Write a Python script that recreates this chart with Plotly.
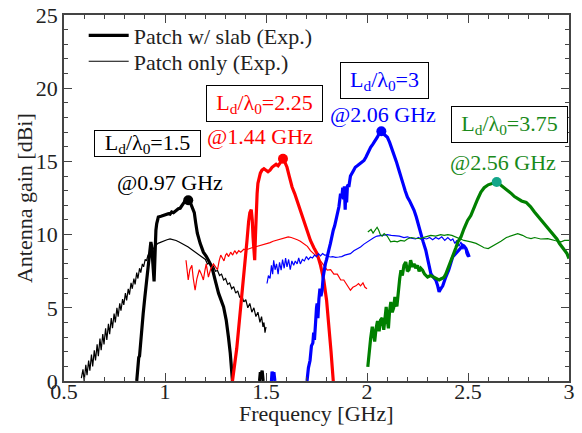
import plotly.graph_objects as go

# ---------------- data ----------------
# Patch w/ slab (Exp.), L_d/lambda_0 = 1.5 (black, thick)
blk_slab_f = [0.860, 0.866, 0.870, 0.874, 0.880, 0.886, 0.892, 0.900, 0.909, 0.917, 0.922, 0.926, 0.930,
              0.934, 0.938, 0.942, 0.946, 0.950, 0.955, 0.959, 0.967, 0.980, 0.992, 1.005, 1.017, 1.025,
              1.033, 1.042, 1.050, 1.058, 1.066, 1.075, 1.083, 1.092, 1.100, 1.108, 1.115, 1.125, 1.135,
              1.145, 1.152, 1.160, 1.174, 1.190, 1.205, 1.215, 1.232, 1.248, 1.265, 1.290, 1.303, 1.314,
              1.323, 1.334]
blk_slab_g = [0.0, 1.4, 1.6, 1.7, 2.8, 3.8, 4.6, 5.7, 6.9, 7.8, 8.6, 9.4, 9.5,
              9.2, 8.6, 7.6, 6.8, 8.9, 10.3, 10.75, 11.2, 11.25, 11.3, 11.35, 11.43, 11.4,
              11.55, 11.5, 11.6, 11.65, 11.77, 11.8, 12.0, 12.15, 12.3, 12.3, 12.35, 12.2, 11.9,
              11.5, 10.8, 10.1, 9.4, 8.8, 8.5, 8.25, 7.8, 6.9, 6.0, 5.06, 4.16, 3.0,
              1.9, 0.0]
blk_slab_tail_f = [1.468, 1.472, 1.476, 1.481, 1.486]
blk_slab_tail_g = [0.0, 0.6, 0.45, 0.7, 0.0]

# Patch only (Exp.) near 1 GHz (black, thin)
blk_only_f = [0.586, 0.594, 0.600, 0.608, 0.614, 0.622, 0.628, 0.636, 0.642, 0.650, 0.656, 0.664, 0.670,
              0.678, 0.684, 0.692, 0.698, 0.706, 0.712, 0.720, 0.726, 0.734, 0.740, 0.748, 0.754, 0.762,
              0.768, 0.776, 0.782, 0.790, 0.796, 0.804, 0.810, 0.818, 0.824, 0.832, 0.838, 0.846, 0.852,
              0.860, 0.866, 0.874, 0.880, 0.888, 0.894, 0.902, 0.908, 0.916, 0.922, 0.935, 0.950, 0.965,
              0.980, 0.995, 1.010, 1.025, 1.040, 1.055, 1.070, 1.085, 1.100, 1.115, 1.130, 1.145, 1.160,
              1.175, 1.190, 1.200, 1.210, 1.220, 1.230, 1.240, 1.250, 1.260, 1.270, 1.280, 1.290, 1.300,
              1.310, 1.320, 1.330, 1.340, 1.350, 1.360, 1.370, 1.380, 1.390, 1.400, 1.410, 1.420, 1.430,
              1.440, 1.450, 1.460, 1.470, 1.478, 1.485, 1.490, 1.495, 1.500]
blk_only_g = [0.2, 0.8, 0.0, 1.1, 0.4, 1.4, 0.7, 1.8, 1.0, 2.1, 1.4, 2.5, 1.7,
              2.9, 2.1, 3.2, 2.5, 3.6, 2.8, 3.9, 3.2, 4.3, 3.6, 4.6, 4.0, 5.0,
              4.4, 5.3, 4.8, 5.6, 5.2, 6.0, 5.5, 6.3, 5.9, 6.7, 6.3, 7.0, 6.6,
              7.4, 7.0, 7.7, 7.4, 8.0, 7.8, 8.3, 8.2, 8.6, 8.6, 8.9, 9.2, 9.4,
              9.5, 9.6, 9.65, 9.7, 9.66, 9.6, 9.5, 9.4, 9.3, 9.15, 9.0, 8.85, 8.7,
              8.55, 8.35, 8.3, 8.0, 8.05, 7.8, 7.85, 7.5, 7.55, 7.2, 7.3, 6.9, 7.0,
              6.6, 6.7, 6.3, 6.45, 6.0, 6.15, 5.7, 5.85, 5.4, 5.55, 5.0, 5.3, 4.7,
              5.0, 4.4, 4.7, 4.0, 4.4, 3.7, 4.0, 3.3, 3.7]

# L_d/lambda_0 = 2.25 (red)
red_slab_f = [1.334, 1.345, 1.355, 1.364, 1.375, 1.389, 1.398, 1.406, 1.414, 1.420, 1.427, 1.432, 1.436,
              1.440, 1.444, 1.448, 1.452, 1.456, 1.460, 1.465, 1.472, 1.480, 1.490, 1.500, 1.510, 1.520,
              1.530, 1.540, 1.550, 1.560, 1.570, 1.584, 1.595, 1.604, 1.615, 1.629, 1.642, 1.654, 1.670,
              1.687, 1.703, 1.720, 1.737, 1.753, 1.770, 1.786, 1.800, 1.811, 1.822, 1.833]
red_slab_g = [0.0, 1.0, 2.2, 3.5, 5.0, 6.9, 8.3, 9.6, 10.9, 11.5, 11.7, 11.0, 9.8,
              8.6, 8.25, 10.0, 12.0, 12.8, 13.5, 13.9, 14.2, 14.4, 14.5, 14.4, 14.3, 14.4,
              14.6, 14.7, 14.8, 14.7, 14.9, 15.18, 14.9, 14.6, 14.0, 13.25, 12.8, 12.3, 11.7,
              11.0, 10.3, 9.6, 9.1, 8.7, 7.9, 6.9, 5.5, 3.9, 2.0, 0.0]
red_only_f = [1.104, 1.110, 1.115, 1.123, 1.133, 1.140, 1.149, 1.158, 1.170, 1.180, 1.190, 1.197, 1.204,
              1.210, 1.215, 1.225, 1.240, 1.250, 1.260, 1.268, 1.276, 1.284, 1.292, 1.300, 1.306, 1.315,
              1.325, 1.335, 1.345, 1.355, 1.365, 1.375, 1.390, 1.400, 1.415, 1.430, 1.445, 1.460, 1.475,
              1.490, 1.505, 1.520, 1.535, 1.550, 1.565, 1.580, 1.595, 1.610, 1.625, 1.640, 1.655, 1.670,
              1.688, 1.705, 1.720, 1.737, 1.754, 1.770, 1.787, 1.803, 1.820, 1.836, 1.853, 1.870, 1.885,
              1.900, 1.918, 1.930, 1.945, 1.958, 1.968, 1.980, 1.990, 2.000]
red_only_g = [8.25, 7.2, 6.9, 7.6, 7.9, 7.0, 6.2, 7.0, 7.6, 7.3, 6.9, 7.5, 8.0,
              7.5, 7.1, 7.6, 8.0, 7.8, 7.6, 8.2, 8.6, 8.4, 8.2, 8.6, 8.7, 8.5,
              8.8, 8.6, 8.9, 8.7, 8.9, 8.8, 9.0, 8.95, 9.05, 9.1, 9.15, 9.2, 9.25,
              9.3, 9.4, 9.45, 9.55, 9.6, 9.7, 9.75, 9.8, 9.85, 9.8, 9.75, 9.65, 9.55,
              9.4, 9.2, 8.9, 8.7, 8.47, 8.2, 7.9, 7.57, 7.6, 7.3, 7.3, 6.9, 6.9,
              6.6, 6.2, 6.4, 6.5, 6.66, 6.5, 6.7, 6.4, 6.3]

# L_d/lambda_0 = 3 (blue)
blu_slab_f = [1.703, 1.710, 1.718, 1.725, 1.732, 1.736, 1.740, 1.745, 1.750, 1.753, 1.757, 1.762, 1.767,
              1.772, 1.778, 1.783, 1.788, 1.794, 1.800, 1.806, 1.812, 1.819, 1.826, 1.833, 1.840, 1.847,
              1.854, 1.861, 1.869, 1.875, 1.880, 1.884, 1.888, 1.892, 1.895, 1.899, 1.903, 1.907, 1.910,
              1.918, 1.930, 1.942, 1.952, 1.965, 1.975, 1.985, 1.995, 2.005, 2.018, 2.030, 2.040, 2.051,
              2.060, 2.071, 2.080, 2.090, 2.101, 2.112, 2.123, 2.134, 2.145, 2.156, 2.167, 2.178, 2.189,
              2.200, 2.211, 2.222, 2.233, 2.244, 2.255, 2.266, 2.278, 2.291, 2.303, 2.316, 2.328, 2.341,
              2.350, 2.357, 2.365, 2.375, 2.390, 2.405, 2.424, 2.440, 2.456, 2.465, 2.473, 2.481, 2.490,
              2.498, 2.506]
blu_slab_g = [0.0, 0.9, 1.4, 2.4, 2.6, 3.3, 2.8, 4.2, 5.0, 5.3, 4.3, 5.6, 6.3,
              5.8, 6.2, 7.1, 7.6, 8.0, 8.3, 8.8, 9.0, 9.4, 9.9, 10.3, 10.6, 11.0,
              11.4, 11.9, 12.8, 12.5, 13.2, 12.4, 13.3, 11.7, 13.0, 12.2, 13.3, 13.4, 13.25,
              14.0, 14.3, 14.6, 14.7, 14.85, 15.0, 15.06, 15.3, 15.6, 15.97, 16.2, 16.4, 16.65,
              16.9, 17.06, 16.9, 16.8, 16.65, 16.3, 15.9, 15.5, 15.0, 14.5, 13.9, 13.5, 13.0,
              12.56, 12.3, 12.0, 11.66, 11.2, 10.6, 10.07, 9.5, 8.93, 8.2, 7.34, 7.1, 6.88,
              6.5, 6.09, 6.3, 6.5, 7.1, 7.6, 8.47, 8.7, 8.93, 9.1, 9.27, 9.2, 9.05,
              8.8, 8.47]
blu_slab_tail_f = [1.527, 1.530, 1.534, 1.539, 1.544]
blu_slab_tail_g = [0.0, 0.65, 0.4, 0.6, 0.0]
blu_only_f = [1.505, 1.512, 1.520, 1.527, 1.533, 1.538, 1.545, 1.552, 1.560, 1.567, 1.575, 1.582, 1.590,
              1.597, 1.604, 1.612, 1.620, 1.628, 1.637, 1.645, 1.654, 1.662, 1.670, 1.680, 1.690, 1.700,
              1.710, 1.720, 1.730, 1.740, 1.750, 1.760, 1.770, 1.780, 1.790, 1.800, 1.810, 1.819, 1.830,
              1.845, 1.860, 1.875, 1.890, 1.905, 1.918, 1.935, 1.950, 1.968, 1.985, 2.000, 2.018, 2.035,
              2.050, 2.067, 2.084, 2.100, 2.120, 2.140, 2.160, 2.183, 2.200, 2.220, 2.240, 2.255, 2.266,
              2.280, 2.295, 2.310, 2.325, 2.340, 2.355, 2.370, 2.385, 2.400, 2.415, 2.425, 2.435, 2.445,
              2.455, 2.465, 2.475, 2.482, 2.490, 2.498]
blu_only_g = [6.66, 7.2, 7.0, 7.9, 7.3, 8.25, 7.6, 8.0, 7.3, 8.1, 7.57, 8.3, 7.7,
              8.4, 7.8, 8.3, 7.6, 8.2, 7.9, 8.2, 8.0, 8.4, 8.0, 8.3, 8.2, 8.5,
              8.3, 8.47, 8.4, 8.6, 8.5, 8.7, 8.55, 8.7, 8.6, 8.6, 8.5, 8.47, 8.5,
              8.45, 8.47, 8.5, 8.6, 8.65, 8.7, 8.9, 9.0, 9.15, 9.35, 9.5, 9.65, 9.8,
              9.9, 9.95, 10.0, 10.0, 9.95, 9.95, 9.9, 9.8, 9.85, 9.75, 9.7, 9.8, 9.7,
              9.75, 9.7, 9.8, 9.65, 9.8, 9.7, 9.85, 9.6, 9.8, 9.6, 9.7, 9.4, 9.6,
              9.2, 9.5, 9.0, 9.3, 8.7, 8.47]

# L_d/lambda_0 = 3.75 (green)
grn_slab_f = [2.004, 2.010, 2.018, 2.026, 2.032, 2.038, 2.045, 2.052, 2.060, 2.067, 2.075, 2.083, 2.090,
              2.095, 2.100, 2.106, 2.112, 2.118, 2.125, 2.132, 2.138, 2.142, 2.148, 2.155, 2.162, 2.168,
              2.175, 2.183, 2.192, 2.200, 2.208, 2.216, 2.225, 2.233, 2.241, 2.250, 2.258, 2.266, 2.275,
              2.285, 2.300, 2.315, 2.332, 2.345, 2.357, 2.370, 2.382, 2.390, 2.398, 2.410, 2.420, 2.431,
              2.440, 2.450, 2.465, 2.480, 2.498, 2.514, 2.530, 2.547, 2.564, 2.580, 2.600, 2.620, 2.642,
              2.660, 2.680, 2.697, 2.715, 2.730, 2.746, 2.765, 2.788, 2.810, 2.829, 2.850, 2.878, 2.900,
              2.920, 2.940, 2.953, 2.965, 2.978, 2.990, 3.000]
grn_slab_g = [0.97, 2.0, 2.9, 3.7, 3.0, 2.7, 3.6, 4.1, 3.4, 4.16, 4.3, 3.5, 4.4,
              5.06, 4.2, 3.6, 4.8, 5.4, 4.7, 5.0, 5.75, 5.3, 5.1, 6.2, 7.0, 7.57,
              7.2, 7.9, 8.13, 7.5, 7.6, 8.25, 7.8, 8.0, 7.7, 7.9, 7.5, 7.7, 7.57,
              7.3, 7.1, 7.2, 7.1, 7.0, 6.9, 7.0, 7.1, 7.3, 7.57, 8.0, 8.3, 8.7,
              9.1, 9.5, 9.84, 10.4, 10.97, 11.3, 11.9, 12.4, 12.9, 13.2, 13.4, 13.5, 13.59,
              13.4, 13.2, 13.0, 12.8, 12.6, 12.45, 12.3, 12.2, 11.9, 11.55, 11.2, 10.75, 10.4,
              10.07, 9.7, 9.39, 9.2, 8.93, 8.7, 8.36]
grn_only_f = [2.004, 2.012, 2.020, 2.030, 2.040, 2.050, 2.058, 2.066, 2.075, 2.085, 2.100, 2.117, 2.135,
              2.150, 2.167, 2.185, 2.200, 2.220, 2.240, 2.266, 2.290, 2.316, 2.340, 2.365, 2.382, 2.400,
              2.420, 2.448, 2.480, 2.514, 2.540, 2.560, 2.580, 2.600, 2.620, 2.647, 2.663, 2.690, 2.720,
              2.746, 2.770, 2.790, 2.812, 2.830, 2.860, 2.895, 2.930, 2.961, 2.978, 3.000]
grn_only_g = [10.18, 10.3, 10.35, 10.1, 10.3, 10.5, 10.3, 10.0, 9.9, 10.07, 9.9, 9.5, 9.55,
              9.5, 9.6, 9.55, 9.7, 9.8, 9.75, 9.73, 9.85, 9.95, 9.9, 10.0, 9.95, 10.0,
              9.95, 9.8, 9.6, 9.5, 9.4, 9.25, 9.1, 9.05, 9.2, 9.45, 9.55, 9.8, 9.95,
              10.07, 9.95, 9.8, 9.73, 9.8, 9.7, 9.73, 9.6, 9.5, 9.6, 9.6]

# peak markers
peak_f = [1.115, 1.584, 2.071, 2.642]
peak_g = [12.35, 15.18, 17.06, 13.59]
peak_colors = ["black", "#ff0000", "#0000ff", "#14a68a"]

# annotation texts
ratio_labels = ["L<sub>d</sub>/λ<sub>0</sub>=1.5", "L<sub>d</sub>/λ<sub>0</sub>=2.25",
                "L<sub>d</sub>/λ<sub>0</sub>=3", "L<sub>d</sub>/λ<sub>0</sub>=3.75"]
freq_labels = ["@0.97 GHz", "@1.44 GHz", "@2.06 GHz", "@2.56 GHz"]
label_colors = ["black", "#ff0000", "#0000ff", "#1a8a1a"]
ratio_pos = [(0.911, 16.25), (1.494, 18.95), (2.085, 20.52), (2.703, 17.52)]
ratio_box = [(103, 23), (113, 33), (85, 33), (113, 33)]
freq_pos = [(1.025, 13.55), (1.472, 16.7), (2.078, 18.2), (2.674, 14.9)]
x_title = "Frequency [GHz]"
y_title = "Antenna gain [dBi]"

FONT = "Liberation Serif"
FS = 22
THICK = 3.2
THIN = 1.2

fig = go.Figure()

def line(xs, ys, color, width, name=None, legend=None):
    fig.add_trace(go.Scatter(x=xs, y=ys, mode="lines", line=dict(color=color, width=width),
                             name=name, showlegend=legend is not None,
                             legend=legend if legend else "legend", hoverinfo="skip"))

line(blk_slab_f, blk_slab_g, "black", THICK, "Patch w/ slab (Exp.)", "legend")
line(blk_only_f, blk_only_g, "black", THIN, "Patch only (Exp.)", "legend2")
line(blk_slab_tail_f, blk_slab_tail_g, "black", THICK)
line(red_only_f, red_only_g, "#ff0000", THIN)
line(red_slab_f, red_slab_g, "#ff0000", THICK)
line(blu_only_f, blu_only_g, "#0000ff", THIN)
line(blu_slab_f, blu_slab_g, "#0000ff", THICK)
line(blu_slab_tail_f, blu_slab_tail_g, "#0000ff", THICK)
line(grn_only_f, grn_only_g, "#008000", THIN)
line(grn_slab_f, grn_slab_g, "#008000", THICK)

fig.add_trace(go.Scatter(x=peak_f, y=peak_g, mode="markers",
                         marker=dict(color=peak_colors, size=10, line=dict(width=0)),
                         showlegend=False, hoverinfo="skip", cliponaxis=False))

annotations = []
for i in range(4):
    annotations.append(dict(x=ratio_pos[i][0], y=ratio_pos[i][1], xref="x", yref="y",
                            text=ratio_labels[i], showarrow=False,
                            font=dict(family=FONT, size=FS, color=label_colors[i]),
                            bordercolor="black", borderwidth=1, borderpad=1,
                            width=ratio_box[i][0], height=ratio_box[i][1],
                            bgcolor="white", xanchor="center", yanchor="middle"))
    annotations.append(dict(x=freq_pos[i][0], y=freq_pos[i][1], xref="x", yref="y",
                            text=freq_labels[i], showarrow=False,
                            font=dict(family=FONT, size=FS, color=label_colors[i]),
                            xanchor="center", yanchor="middle"))

# axis titles
annotations.append(dict(x=0.5, y=-0.089, xref="paper", yref="paper", text=x_title,
                        showarrow=False, xanchor="center", yanchor="middle",
                        font=dict(family=FONT, size=FS, color="#222222")))
annotations.append(dict(x=-0.079, y=0.5, xref="paper", yref="paper", text=y_title,
                        showarrow=False, xanchor="center", yanchor="middle", textangle=-90,
                        font=dict(family=FONT, size=FS, color="#222222")))

axis_common = dict(showline=True, linecolor="#444444", linewidth=1.5, mirror="ticks",
                   ticks="inside", ticklen=8, tickwidth=1.2, tickcolor="#444444",
                   showgrid=False, zeroline=False, automargin=False,
                   tickfont=dict(family=FONT, size=FS, color="#222222"))

legend_common = dict(xanchor="left", yanchor="top", bgcolor="rgba(0,0,0,0)",
                     font=dict(family=FONT, size=FS, color="#222222"), itemwidth=40)

fig.update_layout(
    template="none",
    width=582, height=433,
    margin=dict(l=64, r=13, t=15, b=52),
    paper_bgcolor="white", plot_bgcolor="white",
    font=dict(family=FONT, size=FS, color="#222222"),
    xaxis=dict(range=[0.5, 3], dtick=0.5, tick0=0.5, ticklabelstandoff=-10,
               minor=dict(dtick=0.1, ticks="inside", ticklen=4, tickcolor="#444444", showgrid=False),
               **axis_common),
    yaxis=dict(range=[0, 25], dtick=5, tick0=0,
               minor=dict(dtick=1, ticks="inside", ticklen=4, tickcolor="#444444", showgrid=False),
               **axis_common),
    legend=dict(x=0.039, y=1.001, **legend_common),
    legend2=dict(x=0.039, y=0.9305, **legend_common),
    annotations=annotations,
    showlegend=True,
)

fig.write_html("out.html", config={"displayModeBar": False},
               post_script="document.body.style.margin='0';document.body.style.padding='0';")
